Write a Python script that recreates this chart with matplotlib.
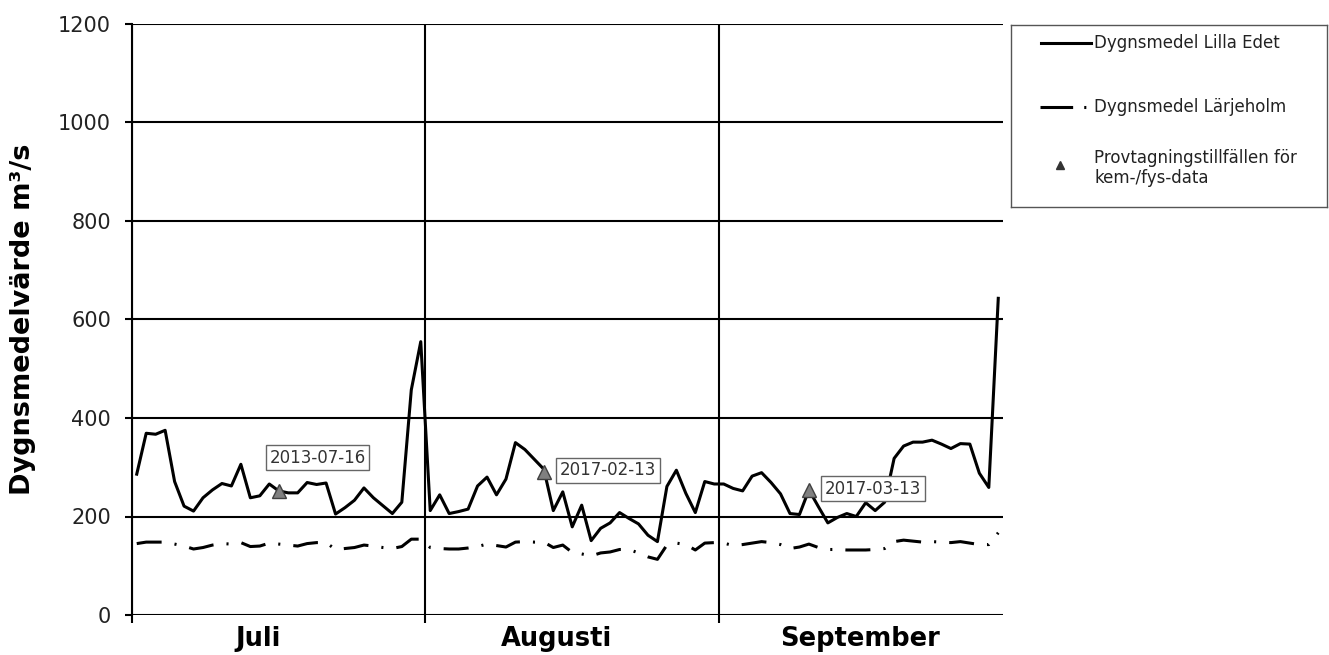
import numpy as np
import matplotlib
matplotlib.use("Agg")
from matplotlib import pyplot as plt
from matplotlib.lines import Line2D

# Dygnsmedelvärden (m3/s), 1 juli - 30 september
lilla_edet = [286, 369, 367, 375, 271, 221, 211, 238, 254, 267, 262, 306, 238, 242, 266, 252,
              248, 248, 269, 265, 268, 205, 218, 233, 258, 238, 222, 206, 229, 457, 555,
              212, 244, 206, 210, 215, 262, 280, 244, 276, 350, 336, 316, 296, 212, 250, 179,
              223, 151, 176, 187, 208, 196, 185, 162, 149, 261, 294, 247, 208, 271, 266,
              266, 257, 252, 282, 289, 269, 246, 206, 204, 254, 220, 187, 198, 206, 200, 228,
              212, 229, 318, 343, 351, 351, 355, 347, 338, 348, 347, 288, 259, 643]
larjeholm = [145, 148, 148, 148, 144, 140, 134, 137, 142, 145, 144, 147, 139, 140, 146, 144,
             142, 140, 145, 147, 147, 133, 135, 137, 142, 140, 137, 135, 139, 154, 154,
             137, 135, 134, 134, 136, 139, 144, 141, 138, 148, 149, 148, 148, 137, 142, 127,
             124, 120, 126, 128, 133, 133, 126, 118, 113, 142, 146, 143, 132, 146, 147,
             146, 141, 143, 146, 149, 147, 143, 135, 138, 144, 137, 133, 133, 132, 132, 132,
             133, 135, 149, 152, 150, 148, 149, 148, 147, 149, 146, 143, 143, 167]

# provtagningar: dag nr (räknat från 1 juli), värde, etikett
prov_dag = [16, 44, 72]
prov_varde = [252, 291, 254]
prov_etikett = ["2013-07-16", "2017-02-13", "2017-03-13"]

manader = ["Juli", "Augusti", "September"]
manad_langd = [31, 31, 30]

plt.rcParams["font.family"] = "DejaVu Sans"
plt.rcParams["lines.scale_dashes"] = False

dagar = np.arange(1, len(lilla_edet) + 1)
x = dagar - 0.5

fig = plt.figure(figsize=(13.29, 6.55), dpi=100)
ax = fig.add_axes([132 / 1329, 40 / 655, 871 / 1329, 591 / 655])

ax.plot(x, lilla_edet, color="black", lw=2.2, solid_joinstyle="round", zorder=3)
ax.plot(x, larjeholm, color="black", lw=2.2, dashes=(18, 9.4, 1.5, 9.4),
        dash_capstyle="butt", zorder=3)
ax.plot(np.array(prov_dag) - 0.5, prov_varde, linestyle="none", marker="^", markersize=10.5,
        markerfacecolor="#808080", markeredgecolor="#404040", markeredgewidth=1, zorder=4)

offsets = [(28, 24), (46, 1), (46, 1)]
for d, v, txt, off in zip(prov_dag, prov_varde, prov_etikett, offsets):
    ax.annotate(txt, (d - 0.5, v), xytext=off, textcoords="offset points",
                ha="center", va="center", fontsize=12, color="#333333",
                bbox=dict(boxstyle="square,pad=0.22", fc="white", ec="#666666", lw=1),
                zorder=5)

grans = np.cumsum([0] + manad_langd)
ax.set_xlim(0, grans[-1])
ax.set_ylim(0, 1200)
ax.set_yticks(np.arange(0, 1201, 200))
ax.set_xticks(grans[:-1])
ax.set_xticklabels([])
ax.set_xticks([13.3, 44.8, 76.9], minor=True)
ax.set_xticklabels(manader, minor=True, fontsize=18.5, fontweight="bold")
ax.tick_params(axis="x", which="minor", length=0, pad=8)
ax.tick_params(axis="x", which="major", length=6, width=1.5, direction="out")
ax.tick_params(axis="y", length=5, width=1.5, direction="out", labelsize=15, pad=10,
               labelcolor="#222222")

ax.grid(True, axis="y", color="black", lw=1.5)
ax.grid(True, axis="x", which="major", color="black", lw=1.5)
for s in ["top", "right", "bottom"]:
    ax.spines[s].set_visible(False)
ax.spines["left"].set_linewidth(1.5)

ax.set_ylabel("Dygnsmedelvärde m³/s", fontsize=19.5, fontweight="bold")
ax.yaxis.set_label_coords(-0.11, 0.5)

# förklaring i egen ruta
lg = fig.add_axes([1011 / 1329, 448 / 655, 316 / 1329, 182 / 655])
lg.set_xlim(0, 316)
lg.set_ylim(182, 0)
lg.set_xticks([])
lg.set_yticks([])
for s in lg.spines.values():
    s.set_color("#555555")
    s.set_linewidth(1)
lg.add_line(Line2D([30, 80], [18, 18], color="black", lw=2.2))
lg.add_line(Line2D([29, 76], [82, 82], color="black", lw=2.2, dashes=(23.5, 8, 1.5, 20),
                   dash_capstyle="butt"))
lg.plot([49], [140], marker="^", markersize=6, color="#333333", linestyle="none")
lg.text(83, 18, "Dygnsmedel Lilla Edet", fontsize=12, va="center", color="#222222")
lg.text(83, 82, "Dygnsmedel Lärjeholm", fontsize=12, va="center", color="#222222")
lg.text(83, 143, "Provtagningstillfällen för\nkem-/fys-data", fontsize=12, va="center",
        color="#222222", linespacing=1.2)

fig.savefig("out.png", dpi=100)
